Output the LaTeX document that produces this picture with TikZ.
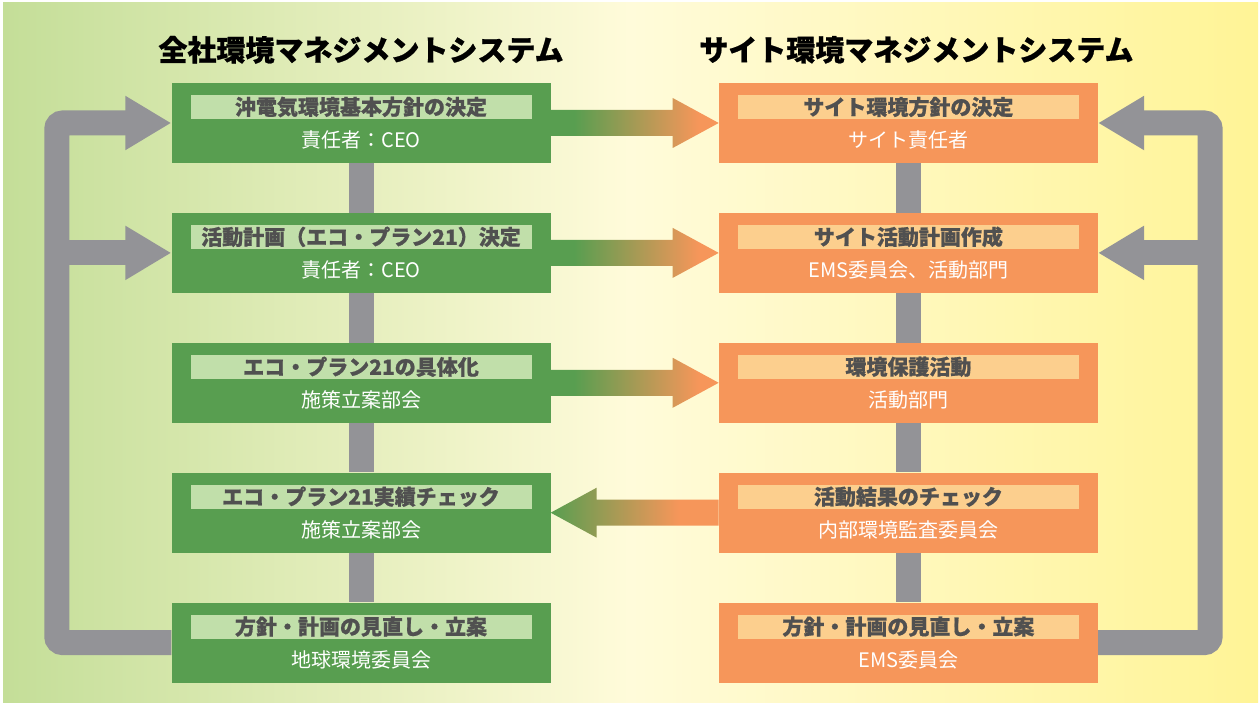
\documentclass[tikz,border=0pt]{standalone}
\usepackage{fontspec}
\setmainfont{Noto Sans CJK JP}
\newfontfamily\heavyfont{Noto Sans CJK JP}[BoldFeatures={FakeBold=0.8}]
\usetikzlibrary{positioning,calc,arrows.meta}
\definecolor{ecogreen}{RGB}{88,158,80}
\definecolor{ecolight}{RGB}{193,223,170}
\definecolor{ecoorange}{RGB}{246,150,90}
\definecolor{ecopeach}{RGB}{252,207,142}
\definecolor{hdrgray}{RGB}{80,80,80}
\definecolor{bargray}{RGB}{147,147,151}
\definecolor{bgleft}{RGB}{196,222,152}
\definecolor{bgmid}{RGB}{255,251,218}
\definecolor{bgright}{RGB}{255,244,150}
\pgfdeclarehorizontalshading{eco}{100bp}{color(0bp)=(ecogreen); color(32bp)=(ecogreen); color(69bp)=(ecoorange); color(100bp)=(ecoorange)}
\pgfdeclarehorizontalshading{ecoback}{100bp}{color(0bp)=(ecogreen); color(25bp)=(ecogreen); color(63bp)=(ecoorange); color(100bp)=(ecoorange)}
\pgfdeclarehorizontalshading{backdrop}{100bp}{color(0bp)=(bgleft); color(25bp)=(bgleft); color(50bp)=(bgmid); color(75bp)=(bgright); color(100bp)=(bgright)}
\newcommand{\ecoarrow}[3]{%
  \coordinate (hb) at ($(#2)!46pt!(#1)$);
  \shade[shading=#3] ([yshift=13pt]#1) -- ([yshift=13pt]hb) -- ([yshift=25pt]hb) -- (#2)
    -- ([yshift=-25pt]hb) -- ([yshift=-13pt]hb) -- ([yshift=-13pt]#1) -- cycle;}
\begin{document}
\begin{tikzpicture}[x=1pt, y=1pt,
  box/.style={minimum width=379pt, minimum height=80pt, inner sep=0pt},
  hdr/.style={minimum width=341pt, minimum height=24pt, inner sep=0pt, text=hdrgray,
    font=\heavyfont\bfseries\fontsize{21}{21}\selectfont},
  sub/.style={text=white, font=\fontsize{20}{20}\selectfont},
  title/.style={font=\heavyfont\bfseries\fontsize{29}{29}\selectfont},
  linkbar/.style={draw=bargray, line width=25pt},
  backbar/.style={linkbar, rounded corners=6pt, -{Triangle[length=46pt, width=51pt]}}]
  \useasboundingbox (0,0) rectangle (1259,704);
  \fill[white] (0,0) rectangle (1259,704);
  \shade[shading=backdrop] (3,1) rectangle (1258,701);

  % company-wide column
  \node[box, fill=ecogreen] (l1) at (361,581) {};
  \node[box, fill=ecogreen, below=49.5pt of l1] (l2) {};
  \node[box, fill=ecogreen, below=49.5pt of l2] (l3) {};
  \node[box, fill=ecogreen, below=49.5pt of l3] (l4) {};
  \node[box, fill=ecogreen, below=49.5pt of l4] (l5) {};
  % site column
  \node[box, fill=ecoorange, right=168pt of l1] (r1) {};
  \node[box, fill=ecoorange, below=49.5pt of r1] (r2) {};
  \node[box, fill=ecoorange, below=49.5pt of r2] (r3) {};
  \node[box, fill=ecoorange, below=49.5pt of r3] (r4) {};
  \node[box, fill=ecoorange, below=49.5pt of r4] (r5) {};

  \node[title] (lt) at ([yshift=33pt]l1.north) {全社環境マネジメントシステム};
  \node[title] (rt) at ([xshift=8pt, yshift=33pt]r1.north) {サイト環境マネジメントシステム};

  \node[hdr, fill=ecolight] (l1h) at ([yshift=16pt]l1.center) {沖電気環境基本方針の決定};
  \node[sub] (l1s) at ([yshift=-17pt]l1.center) {責任者：CEO};
  \node[hdr, fill=ecolight] (l2h) at ([yshift=16pt]l2.center) {活動計画（エコ・プラン21）決定};
  \node[sub] (l2s) at ([yshift=-17pt]l2.center) {責任者：CEO};
  \node[hdr, fill=ecolight] (l3h) at ([yshift=16pt]l3.center) {エコ・プラン21の具体化};
  \node[sub] (l3s) at ([yshift=-17pt]l3.center) {施策立案部会};
  \node[hdr, fill=ecolight] (l4h) at ([yshift=16pt]l4.center) {エコ・プラン21実績チェック};
  \node[sub] (l4s) at ([yshift=-17pt]l4.center) {施策立案部会};
  \node[hdr, fill=ecolight] (l5h) at ([yshift=16pt]l5.center) {方針・計画の見直し・立案};
  \node[sub] (l5s) at ([yshift=-17pt]l5.center) {地球環境委員会};

  \node[hdr, fill=ecopeach] (r1h) at ([yshift=16pt]r1.center) {サイト環境方針の決定};
  \node[sub] (r1s) at ([yshift=-17pt]r1.center) {サイト責任者};
  \node[hdr, fill=ecopeach] (r2h) at ([yshift=16pt]r2.center) {サイト活動計画作成};
  \node[sub] (r2s) at ([yshift=-17pt]r2.center) {EMS委員会、活動部門};
  \node[hdr, fill=ecopeach] (r3h) at ([yshift=16pt]r3.center) {環境保護活動};
  \node[sub] (r3s) at ([yshift=-17pt]r3.center) {活動部門};
  \node[hdr, fill=ecopeach] (r4h) at ([yshift=16pt]r4.center) {活動結果のチェック};
  \node[sub] (r4s) at ([yshift=-17pt]r4.center) {内部環境監査委員会};
  \node[hdr, fill=ecopeach] (r5h) at ([yshift=16pt]r5.center) {方針・計画の見直し・立案};
  \node[sub] (r5s) at ([yshift=-17pt]r5.center) {EMS委員会};

  \draw[linkbar] (l1) -- (l2);
  \draw[linkbar] (l2) -- (l3);
  \draw[linkbar] (l3) -- (l4);
  \draw[linkbar] (l4) -- (l5);
  \draw[linkbar] (r1) -- (r2);
  \draw[linkbar] (r2) -- (r3);
  \draw[linkbar] (r3) -- (r4);
  \draw[linkbar] (r4) -- (r5);

  \draw[backbar] (l5.west) -| ([xshift=-114.5pt]l1.west) -- (l1.west);
  \draw[backbar] ([xshift=-114.5pt]l2.west) -- (l2.west);
  \draw[backbar] (r5.east) -| ([xshift=112pt]r1.east) -- (r1.east);
  \draw[backbar] ([xshift=112pt]r2.east) -- (r2.east);

  \ecoarrow{l1.east}{r1.west}{eco}
  \ecoarrow{l2.east}{r2.west}{eco}
  \ecoarrow{l3.east}{r3.west}{eco}
  \ecoarrow{r4.west}{l4.east}{ecoback}
\end{tikzpicture}
\end{document}
